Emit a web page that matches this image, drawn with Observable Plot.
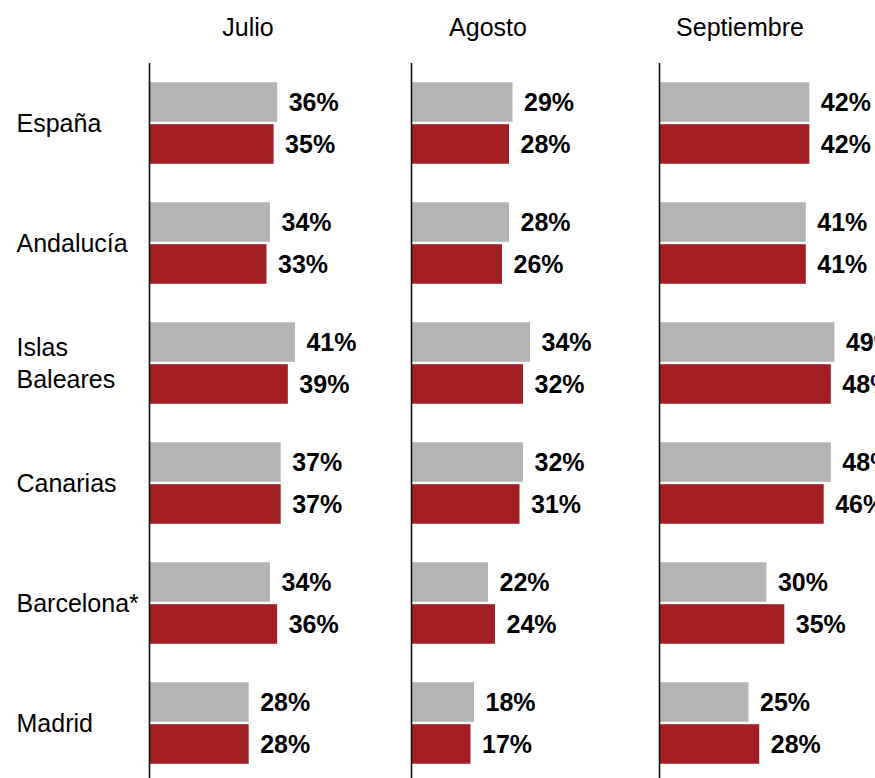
<!DOCTYPE html>
<html>
<head>
<meta charset="utf-8">
<script src="https://cdn.jsdelivr.net/npm/d3@7"></script>
<script src="https://cdn.jsdelivr.net/npm/@observablehq/plot@0.6"></script>
<style>
  html, body { margin: 0; padding: 0; background: white; overflow: hidden; }
  #chart { position: relative; width: 875px; height: 778px; overflow: hidden; font-family: "Liberation Sans", Arial, sans-serif; }
  .panel { position: absolute; }
  .head { position: absolute; top: 13px; width: 200px; text-align: center; font-size: 25px; line-height: 28px; color: #000; }
</style>
</head>
<body>
<div id="chart"></div>
<script>
// ---- data ----
const regions = ["España", "Andalucía", "Islas Baleares", "Canarias", "Barcelona*", "Madrid"];
const regionLabels = ["España", "Andalucía", "Islas\nBaleares", "Canarias", "Barcelona*", "Madrid"];
const months = ["Julio", "Agosto", "Septiembre"];
const series = ["Serie gris", "Serie roja"];
const colors = ["#b4b4b4", "#a11f22"];

const julioGris = [36, 34, 41, 37, 34, 28];
const julioRoja = [35, 33, 39, 37, 36, 28];
const agostoGris = [29, 28, 34, 32, 22, 18];
const agostoRoja = [28, 26, 32, 31, 24, 17];
const septGris = [42, 41, 49, 48, 30, 25];
const septRoja = [42, 41, 48, 46, 35, 28];

const font = '"Liberation Sans", Arial, sans-serif';

function rows(gris, roja) {
  const out = [];
  regions.forEach((r, i) => {
    out.push({region: r, serie: series[0], value: gris[i]});
    out.push({region: r, serie: series[1], value: roja[i]});
  });
  return out;
}

function panel({gris, roja, width, marginLeft, xMax, withLabels}) {
  const data = rows(gris, roja);
  const marks = [
    Plot.barX(data, {fy: "region", y: "serie", x: "value", fill: "serie", insetTop: 1.2, insetBottom: 1.2}),
    Plot.ruleX([0], {stroke: "#111", strokeWidth: 1.6}),
    Plot.text(data, {fy: "region", y: "serie", x: "value", text: d => d.value + "%", dx: 11, dy: 0.5,
      textAnchor: "start", fontWeight: "bold", fontSize: 25, fill: "#000"})
  ];
  if (withLabels) {
    marks.push(Plot.text(regions, {fy: d => d, text: (d, i) => regionLabels[i], frameAnchor: "left",
      textAnchor: "start", dx: -133, dy: -2, lineHeight: 1.28, fontSize: 25, fill: "#000"}));
  }
  return Plot.plot({
    width, height: 721,
    marginTop: 1, marginBottom: 0, marginLeft, marginRight: 0,
    style: {fontFamily: font, fontSize: "25px", background: "transparent", overflow: "visible", maxWidth: "none"},
    x: {domain: [0, xMax], axis: null},
    y: {domain: series, paddingInner: 0, paddingOuter: 0.43, axis: null, round: false},
    fy: {domain: regions, padding: 0, axis: null, round: false},
    color: {domain: series, range: colors},
    marks
  });
}

const chart = document.getElementById("chart");
const configs = [
  {month: months[0], gris: julioGris, roja: julioRoja, left: 0, width: 411, marginLeft: 149, pxPer: 3.56, head: 248},
  {month: months[1], gris: agostoGris, roja: agostoRoja, left: 401, width: 258, marginLeft: 10, pxPer: 3.50, head: 488},
  {month: months[2], gris: septGris, roja: septRoja, left: 649, width: 270, marginLeft: 10, pxPer: 3.58, head: 740}
];
configs.forEach((c, k) => {
  const div = document.createElement("div");
  div.className = "panel";
  div.style.left = c.left + "px";
  div.style.top = "62px";
  div.style.width = c.width + "px";
  const xMax = (c.width - c.marginLeft) / c.pxPer;
  div.appendChild(panel({gris: c.gris, roja: c.roja, width: c.width, marginLeft: c.marginLeft, xMax, withLabels: k === 0}));
  chart.appendChild(div);
  const h = document.createElement("div");
  h.className = "head";
  h.style.left = (c.head - 100) + "px";
  h.textContent = c.month;
  chart.appendChild(h);
});
</script>
</body>
</html>
